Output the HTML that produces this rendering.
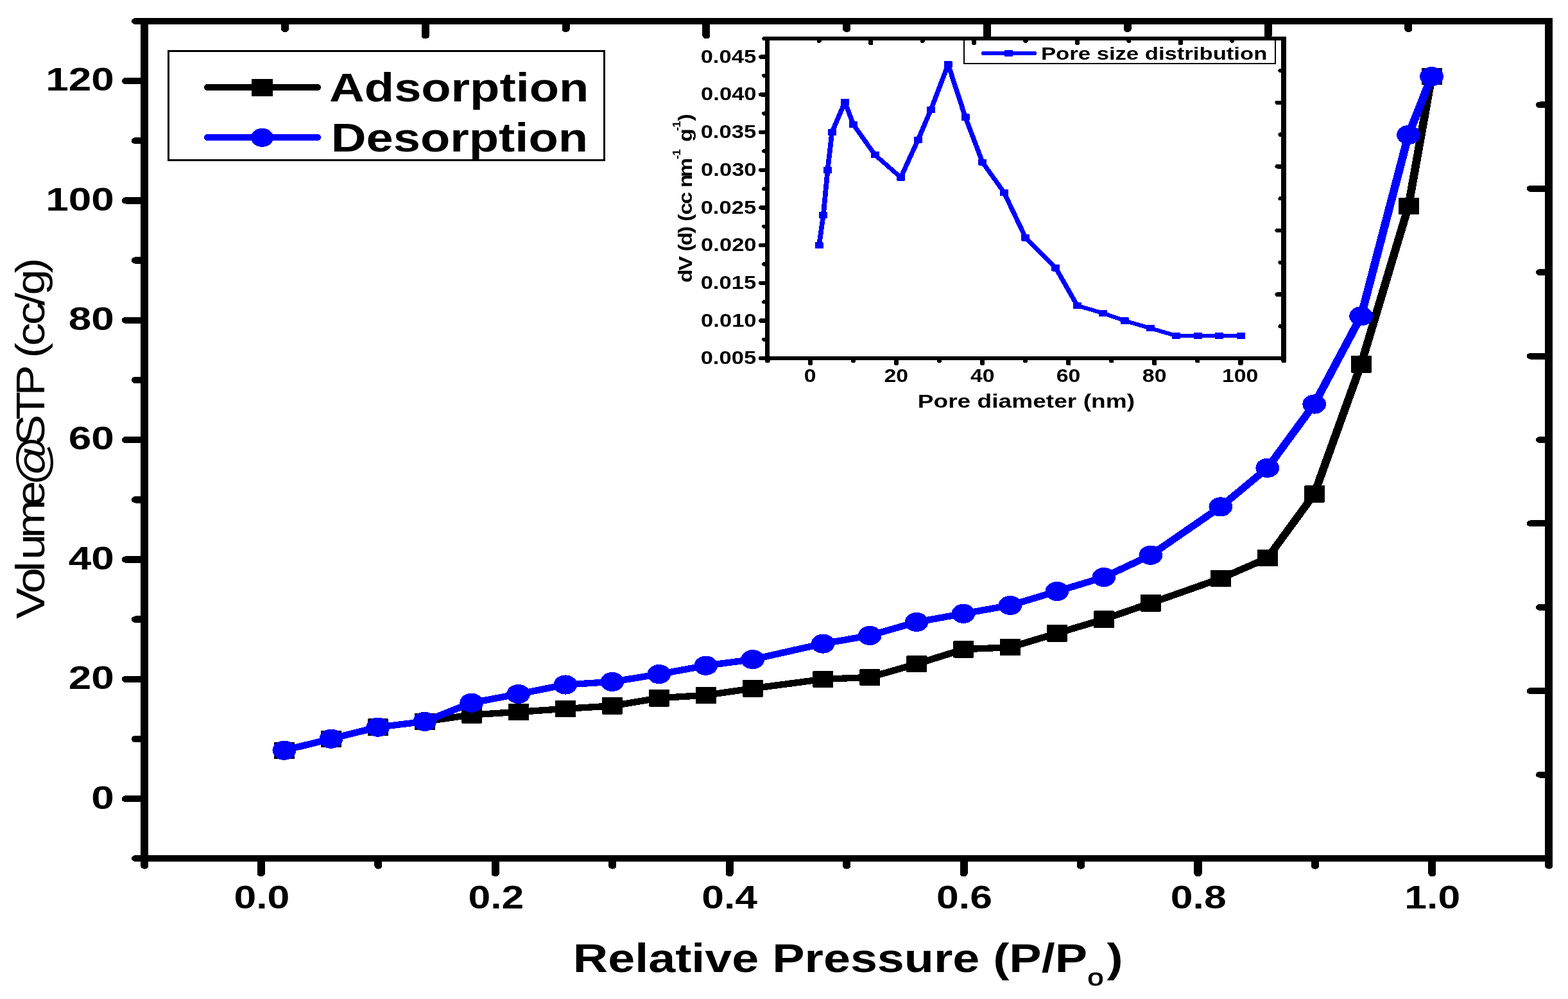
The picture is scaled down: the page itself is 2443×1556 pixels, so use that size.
<!DOCTYPE html>
<html lang="en">
<head>
<meta charset="utf-8">
<title>Adsorption / Desorption isotherm with pore size distribution</title>
<style>
html,body{margin:0;padding:0;background:#fff;}
body{width:2443px;height:1556px;overflow:hidden;}
svg{display:block;}
svg text{font-family:"Liberation Sans",Arial,Helvetica,sans-serif;font-kerning:none;white-space:pre;}
</style>
</head>
<body>
<svg width="2443" height="1556" viewBox="0 0 2443 1556">
<rect x="0" y="0" width="2443" height="1556" fill="#fff"/>
<g transform="scale(1.25 1)" shape-rendering="crispEdges">
<line x1="169" y1="1337" x2="178.56" y2="1337" stroke="#000" stroke-width="10" stroke-linecap="round"/>
<line x1="157" y1="1244.2" x2="178.56" y2="1244.2" stroke="#000" stroke-width="10.4" stroke-linecap="round"/>
<line x1="169" y1="1151.02" x2="178.56" y2="1151.02" stroke="#000" stroke-width="10.4" stroke-linecap="round"/>
<line x1="157" y1="1057.84" x2="178.56" y2="1057.84" stroke="#000" stroke-width="10.4" stroke-linecap="round"/>
<line x1="169" y1="964.66" x2="178.56" y2="964.66" stroke="#000" stroke-width="10.4" stroke-linecap="round"/>
<line x1="157" y1="871.48" x2="178.56" y2="871.48" stroke="#000" stroke-width="10.4" stroke-linecap="round"/>
<line x1="169" y1="778.3" x2="178.56" y2="778.3" stroke="#000" stroke-width="10.4" stroke-linecap="round"/>
<line x1="157" y1="685.12" x2="178.56" y2="685.12" stroke="#000" stroke-width="10.4" stroke-linecap="round"/>
<line x1="169" y1="591.94" x2="178.56" y2="591.94" stroke="#000" stroke-width="10.4" stroke-linecap="round"/>
<line x1="157" y1="498.76" x2="178.56" y2="498.76" stroke="#000" stroke-width="10.4" stroke-linecap="round"/>
<line x1="169" y1="405.58" x2="178.56" y2="405.58" stroke="#000" stroke-width="10.4" stroke-linecap="round"/>
<line x1="157" y1="312.4" x2="178.56" y2="312.4" stroke="#000" stroke-width="10.4" stroke-linecap="round"/>
<line x1="169" y1="219.22" x2="178.56" y2="219.22" stroke="#000" stroke-width="10.4" stroke-linecap="round"/>
<line x1="157" y1="126.04" x2="178.56" y2="126.04" stroke="#000" stroke-width="10.4" stroke-linecap="round"/>
<line x1="169" y1="33" x2="178.56" y2="33" stroke="#000" stroke-width="10" stroke-linecap="round"/>
<line x1="180.16" y1="1339" x2="180.16" y2="1348.8" stroke="#000" stroke-width="9.6" stroke-linecap="round"/>
<line x1="325.52" y1="1339" x2="325.52" y2="1360.5" stroke="#000" stroke-width="9.6" stroke-linecap="round"/>
<line x1="471.48" y1="1339" x2="471.48" y2="1348.8" stroke="#000" stroke-width="9.6" stroke-linecap="round"/>
<line x1="617.44" y1="1339" x2="617.44" y2="1360.5" stroke="#000" stroke-width="9.6" stroke-linecap="round"/>
<line x1="763.4" y1="1339" x2="763.4" y2="1348.8" stroke="#000" stroke-width="9.6" stroke-linecap="round"/>
<line x1="909.36" y1="1339" x2="909.36" y2="1360.5" stroke="#000" stroke-width="9.6" stroke-linecap="round"/>
<line x1="1055.32" y1="1339" x2="1055.32" y2="1348.8" stroke="#000" stroke-width="9.6" stroke-linecap="round"/>
<line x1="1201.28" y1="1339" x2="1201.28" y2="1360.5" stroke="#000" stroke-width="9.6" stroke-linecap="round"/>
<line x1="1347.24" y1="1339" x2="1347.24" y2="1348.8" stroke="#000" stroke-width="9.6" stroke-linecap="round"/>
<line x1="1493.2" y1="1339" x2="1493.2" y2="1360.5" stroke="#000" stroke-width="9.6" stroke-linecap="round"/>
<line x1="1639.16" y1="1339" x2="1639.16" y2="1348.8" stroke="#000" stroke-width="9.6" stroke-linecap="round"/>
<line x1="1785.12" y1="1339" x2="1785.12" y2="1360.5" stroke="#000" stroke-width="9.6" stroke-linecap="round"/>
<line x1="1930.56" y1="1339" x2="1930.56" y2="1348.8" stroke="#000" stroke-width="9.6" stroke-linecap="round"/>
<line x1="355.2" y1="35" x2="355.2" y2="45.2" stroke="#000" stroke-width="9.6" stroke-linecap="round"/>
<line x1="530.24" y1="35" x2="530.24" y2="55.7" stroke="#000" stroke-width="9.6" stroke-linecap="round"/>
<line x1="705.28" y1="35" x2="705.28" y2="45.2" stroke="#000" stroke-width="9.6" stroke-linecap="round"/>
<line x1="880.32" y1="35" x2="880.32" y2="55.7" stroke="#000" stroke-width="9.6" stroke-linecap="round"/>
<line x1="1055.36" y1="35" x2="1055.36" y2="45.2" stroke="#000" stroke-width="9.6" stroke-linecap="round"/>
<line x1="1230.4" y1="35" x2="1230.4" y2="55.7" stroke="#000" stroke-width="9.6" stroke-linecap="round"/>
<line x1="1405.44" y1="35" x2="1405.44" y2="45.2" stroke="#000" stroke-width="9.6" stroke-linecap="round"/>
<line x1="1580.48" y1="35" x2="1580.48" y2="55.7" stroke="#000" stroke-width="9.6" stroke-linecap="round"/>
<line x1="1755.52" y1="35" x2="1755.52" y2="45.2" stroke="#000" stroke-width="9.6" stroke-linecap="round"/>
<line x1="1919.4" y1="163.4" x2="1928.96" y2="163.4" stroke="#000" stroke-width="10" stroke-linecap="round"/>
<line x1="1907.96" y1="293.8" x2="1928.96" y2="293.8" stroke="#000" stroke-width="10" stroke-linecap="round"/>
<line x1="1919.4" y1="424.2" x2="1928.96" y2="424.2" stroke="#000" stroke-width="10" stroke-linecap="round"/>
<line x1="1907.96" y1="554.6" x2="1928.96" y2="554.6" stroke="#000" stroke-width="10" stroke-linecap="round"/>
<line x1="1919.4" y1="685" x2="1928.96" y2="685" stroke="#000" stroke-width="10" stroke-linecap="round"/>
<line x1="1907.96" y1="815.4" x2="1928.96" y2="815.4" stroke="#000" stroke-width="10" stroke-linecap="round"/>
<line x1="1919.4" y1="945.8" x2="1928.96" y2="945.8" stroke="#000" stroke-width="10" stroke-linecap="round"/>
<line x1="1907.96" y1="1076.2" x2="1928.96" y2="1076.2" stroke="#000" stroke-width="10" stroke-linecap="round"/>
<line x1="1919.4" y1="1206.6" x2="1928.96" y2="1206.6" stroke="#000" stroke-width="10" stroke-linecap="round"/>
<rect x="175.36" y="28" width="9.6" height="1309" fill="#000"/>
<rect x="1925.92" y="28" width="9.28" height="1309" fill="#000"/>
<rect x="180.16" y="28" width="1750.4" height="10" fill="#000"/>
<rect x="180.16" y="1332" width="1750.4" height="10" fill="#000"/>
</g>
<g transform="scale(1.25 1)" shape-rendering="crispEdges">
<polyline fill="none" stroke="#000" stroke-width="10.3" stroke-linejoin="round" stroke-linecap="round" points="354.3,1168.7 412.66,1150.7 471.02,1132.6 529.37,1123.8 587.73,1113.4 646.09,1108.9 704.77,1103.9 763.13,1099.4 821.49,1087.3 879.84,1082.8 938.2,1072.3 1025.74,1057.9 1084.1,1054.9 1142.46,1034.2 1200.82,1011.3 1259.17,1008.2 1317.53,986.3 1375.89,964.6 1434.25,939.4 1521.47,901 1579.83,869.2 1638.18,769.5 1696.54,567.4 1755.6,321 1784.4,119.1"/>
<rect x="341.74" y="1155.5" width="25.6" height="26.4" rx="1" fill="#000"/>
<rect x="400.1" y="1137.5" width="25.6" height="26.4" rx="1" fill="#000"/>
<rect x="458.46" y="1119.4" width="25.6" height="26.4" rx="1" fill="#000"/>
<rect x="516.81" y="1110.6" width="25.6" height="26.4" rx="1" fill="#000"/>
<rect x="575.17" y="1100.2" width="25.6" height="26.4" rx="1" fill="#000"/>
<rect x="633.53" y="1095.7" width="25.6" height="26.4" rx="1" fill="#000"/>
<rect x="692.21" y="1090.7" width="25.6" height="26.4" rx="1" fill="#000"/>
<rect x="750.57" y="1086.2" width="25.6" height="26.4" rx="1" fill="#000"/>
<rect x="808.93" y="1074.1" width="25.6" height="26.4" rx="1" fill="#000"/>
<rect x="867.28" y="1069.6" width="25.6" height="26.4" rx="1" fill="#000"/>
<rect x="925.64" y="1059.1" width="25.6" height="26.4" rx="1" fill="#000"/>
<rect x="1013.18" y="1044.7" width="25.6" height="26.4" rx="1" fill="#000"/>
<rect x="1071.54" y="1041.7" width="25.6" height="26.4" rx="1" fill="#000"/>
<rect x="1129.9" y="1021" width="25.6" height="26.4" rx="1" fill="#000"/>
<rect x="1188.26" y="998.1" width="25.6" height="26.4" rx="1" fill="#000"/>
<rect x="1246.61" y="995" width="25.6" height="26.4" rx="1" fill="#000"/>
<rect x="1304.97" y="973.1" width="25.6" height="26.4" rx="1" fill="#000"/>
<rect x="1363.33" y="951.4" width="25.6" height="26.4" rx="1" fill="#000"/>
<rect x="1421.69" y="926.2" width="25.6" height="26.4" rx="1" fill="#000"/>
<rect x="1508.91" y="887.8" width="25.6" height="26.4" rx="1" fill="#000"/>
<rect x="1567.27" y="856" width="25.6" height="26.4" rx="1" fill="#000"/>
<rect x="1625.62" y="756.3" width="25.6" height="26.4" rx="1" fill="#000"/>
<rect x="1683.98" y="554.2" width="25.6" height="26.4" rx="1" fill="#000"/>
<rect x="1743.04" y="307.8" width="25.6" height="26.4" rx="1" fill="#000"/>
<rect x="1771.84" y="105.9" width="25.6" height="26.4" rx="1" fill="#000"/>
<polyline fill="none" stroke="#0000ff" stroke-width="10.3" stroke-linejoin="round" stroke-linecap="round" points="354.3,1168.7 412.66,1150.7 471.02,1132.6 529.37,1123.8 587.73,1094.7 646.09,1081 704.77,1066.5 763.13,1061.9 821.49,1050.1 879.84,1036.7 938.2,1027.1 1025.74,1002.6 1084.1,989.9 1142.46,968.9 1200.82,955.8 1259.17,942.9 1317.53,921 1375.89,899.1 1434.25,864.7 1521.47,789.4 1579.83,728.9 1638.18,629.5 1696.54,492.4 1755.6,210 1784.4,119.1"/>
<ellipse cx="354.3" cy="1168.7" rx="14.72" ry="15.1" fill="#0000ff"/>
<ellipse cx="412.66" cy="1150.7" rx="14.72" ry="15.1" fill="#0000ff"/>
<ellipse cx="471.02" cy="1132.6" rx="14.72" ry="15.1" fill="#0000ff"/>
<ellipse cx="529.37" cy="1123.8" rx="14.72" ry="15.1" fill="#0000ff"/>
<ellipse cx="587.73" cy="1094.7" rx="14.72" ry="15.1" fill="#0000ff"/>
<ellipse cx="646.09" cy="1081" rx="14.72" ry="15.1" fill="#0000ff"/>
<ellipse cx="704.77" cy="1066.5" rx="14.72" ry="15.1" fill="#0000ff"/>
<ellipse cx="763.13" cy="1061.9" rx="14.72" ry="15.1" fill="#0000ff"/>
<ellipse cx="821.49" cy="1050.1" rx="14.72" ry="15.1" fill="#0000ff"/>
<ellipse cx="879.84" cy="1036.7" rx="14.72" ry="15.1" fill="#0000ff"/>
<ellipse cx="938.2" cy="1027.1" rx="14.72" ry="15.1" fill="#0000ff"/>
<ellipse cx="1025.74" cy="1002.6" rx="14.72" ry="15.1" fill="#0000ff"/>
<ellipse cx="1084.1" cy="989.9" rx="14.72" ry="15.1" fill="#0000ff"/>
<ellipse cx="1142.46" cy="968.9" rx="14.72" ry="15.1" fill="#0000ff"/>
<ellipse cx="1200.82" cy="955.8" rx="14.72" ry="15.1" fill="#0000ff"/>
<ellipse cx="1259.17" cy="942.9" rx="14.72" ry="15.1" fill="#0000ff"/>
<ellipse cx="1317.53" cy="921" rx="14.72" ry="15.1" fill="#0000ff"/>
<ellipse cx="1375.89" cy="899.1" rx="14.72" ry="15.1" fill="#0000ff"/>
<ellipse cx="1434.25" cy="864.7" rx="14.72" ry="15.1" fill="#0000ff"/>
<ellipse cx="1521.47" cy="789.4" rx="14.72" ry="15.1" fill="#0000ff"/>
<ellipse cx="1579.83" cy="728.9" rx="14.72" ry="15.1" fill="#0000ff"/>
<ellipse cx="1638.18" cy="629.5" rx="14.72" ry="15.1" fill="#0000ff"/>
<ellipse cx="1696.54" cy="492.4" rx="14.72" ry="15.1" fill="#0000ff"/>
<ellipse cx="1755.6" cy="210" rx="14.72" ry="15.1" fill="#0000ff"/>
<ellipse cx="1784.4" cy="119.1" rx="14.72" ry="15.1" fill="#0000ff"/>
</g>
<path d="M261 78H943V251H261ZM264 81V248H940V81Z" fill="#000" fill-rule="evenodd" shape-rendering="crispEdges"/>
<g transform="scale(1.25 1)" shape-rendering="crispEdges">
<line x1="259.36" y1="136" x2="395.04" y2="136" stroke="#000" stroke-width="10.4" stroke-linecap="round"/>
<rect x="313.6" y="122.8" width="26.4" height="27.2" rx="1" fill="#000"/>
<line x1="259.36" y1="214" x2="395.04" y2="214" stroke="#0000ff" stroke-width="10.4" stroke-linecap="round"/>
<ellipse cx="326.8" cy="214.3" rx="14.08" ry="14.6" fill="#0000ff"/>
</g>
<text transform="translate(513.11 157.7) scale(1.2169 1)" font-size="62.3" font-weight="bold" fill="#000">Adsorption</text>
<text transform="translate(515.72 236.2) scale(1.2180 1)" font-size="62.3" font-weight="bold" fill="#000">Desorption</text>
<text transform="translate(142.29 1259.5) scale(1.2550 1)" font-size="50.9" font-weight="bold" fill="#000">0</text>
<text transform="translate(106.77 1073.14) scale(1.2550 1)" font-size="50.9" font-weight="bold" fill="#000">20</text>
<text transform="translate(106.77 886.78) scale(1.2550 1)" font-size="50.9" font-weight="bold" fill="#000">40</text>
<text transform="translate(106.77 700.42) scale(1.2550 1)" font-size="50.9" font-weight="bold" fill="#000">60</text>
<text transform="translate(106.77 514.06) scale(1.2550 1)" font-size="50.9" font-weight="bold" fill="#000">80</text>
<text transform="translate(71.24 327.7) scale(1.2550 1)" font-size="50.9" font-weight="bold" fill="#000">100</text>
<text transform="translate(71.24 141.34) scale(1.2550 1)" font-size="50.9" font-weight="bold" fill="#000">120</text>
<text transform="translate(364.51 1415) scale(1.2350 1)" font-size="50.6" font-weight="bold" fill="#000">0.0</text>
<text transform="translate(729.38 1415) scale(1.2350 1)" font-size="50.6" font-weight="bold" fill="#000">0.2</text>
<text transform="translate(1093.2 1415) scale(1.2350 1)" font-size="50.6" font-weight="bold" fill="#000">0.4</text>
<text transform="translate(1459.06 1415) scale(1.2350 1)" font-size="50.6" font-weight="bold" fill="#000">0.6</text>
<text transform="translate(1823.79 1415) scale(1.2350 1)" font-size="50.6" font-weight="bold" fill="#000">0.8</text>
<text transform="translate(2188.28 1415) scale(1.2350 1)" font-size="50.6" font-weight="bold" fill="#000">1.0</text>
<text transform="translate(892.85 1513.8) scale(1.2114 1)" font-size="62.3" font-weight="bold" fill="#000">Relative Pressure (P/P<tspan x="661.7" y="21.5" font-size="37" font-weight="normal" stroke="#000" stroke-width="1">o</tspan><tspan x="686.47" y="0">)</tspan></text>
<text transform="translate(68.8 963.5) rotate(-90) scale(1 0.8650)" font-size="72" font-weight="normal"><tspan x="-0.32 39.38 72.95 91.82 125.22 174.84" y="0">Volume</tspan><tspan x="206.95" y="4.86" font-size="77">@</tspan><tspan x="269.73 309.78 347.09 395 405.84 424.84 457.44 487.5 503.98 538.08" y="0">STP (cc/g)</tspan></text>
<g transform="scale(1.25 1)" shape-rendering="crispEdges">
<line x1="948.72" y1="558.2" x2="955.52" y2="558.2" stroke="#000" stroke-width="6.4" stroke-linecap="round"/>
<line x1="952.96" y1="528.85" x2="955.52" y2="528.85" stroke="#000" stroke-width="6.4" stroke-linecap="round"/>
<line x1="948.72" y1="499.5" x2="955.52" y2="499.5" stroke="#000" stroke-width="6.4" stroke-linecap="round"/>
<line x1="952.96" y1="470.15" x2="955.52" y2="470.15" stroke="#000" stroke-width="6.4" stroke-linecap="round"/>
<line x1="948.72" y1="440.8" x2="955.52" y2="440.8" stroke="#000" stroke-width="6.4" stroke-linecap="round"/>
<line x1="952.96" y1="411.45" x2="955.52" y2="411.45" stroke="#000" stroke-width="6.4" stroke-linecap="round"/>
<line x1="948.72" y1="382.1" x2="955.52" y2="382.1" stroke="#000" stroke-width="6.4" stroke-linecap="round"/>
<line x1="952.96" y1="352.75" x2="955.52" y2="352.75" stroke="#000" stroke-width="6.4" stroke-linecap="round"/>
<line x1="948.72" y1="323.4" x2="955.52" y2="323.4" stroke="#000" stroke-width="6.4" stroke-linecap="round"/>
<line x1="952.96" y1="294.05" x2="955.52" y2="294.05" stroke="#000" stroke-width="6.4" stroke-linecap="round"/>
<line x1="948.72" y1="264.7" x2="955.52" y2="264.7" stroke="#000" stroke-width="6.4" stroke-linecap="round"/>
<line x1="952.96" y1="235.35" x2="955.52" y2="235.35" stroke="#000" stroke-width="6.4" stroke-linecap="round"/>
<line x1="948.72" y1="206" x2="955.52" y2="206" stroke="#000" stroke-width="6.4" stroke-linecap="round"/>
<line x1="952.96" y1="176.65" x2="955.52" y2="176.65" stroke="#000" stroke-width="6.4" stroke-linecap="round"/>
<line x1="948.72" y1="147.3" x2="955.52" y2="147.3" stroke="#000" stroke-width="6.4" stroke-linecap="round"/>
<line x1="952.96" y1="117.95" x2="955.52" y2="117.95" stroke="#000" stroke-width="6.4" stroke-linecap="round"/>
<line x1="948.72" y1="88.6" x2="955.52" y2="88.6" stroke="#000" stroke-width="6.4" stroke-linecap="round"/>
<line x1="952.88" y1="60.2" x2="955.52" y2="60.2" stroke="#000" stroke-width="6" stroke-linecap="round"/>
<line x1="956.72" y1="559.2" x2="956.72" y2="562.5" stroke="#000" stroke-width="5.8" stroke-linecap="round"/>
<line x1="1009.92" y1="559.2" x2="1009.92" y2="566.5" stroke="#000" stroke-width="5.8" stroke-linecap="round"/>
<line x1="1063.56" y1="559.2" x2="1063.56" y2="562.5" stroke="#000" stroke-width="5.8" stroke-linecap="round"/>
<line x1="1117.2" y1="559.2" x2="1117.2" y2="566.5" stroke="#000" stroke-width="5.8" stroke-linecap="round"/>
<line x1="1170.84" y1="559.2" x2="1170.84" y2="562.5" stroke="#000" stroke-width="5.8" stroke-linecap="round"/>
<line x1="1224.48" y1="559.2" x2="1224.48" y2="566.5" stroke="#000" stroke-width="5.8" stroke-linecap="round"/>
<line x1="1278.12" y1="559.2" x2="1278.12" y2="562.5" stroke="#000" stroke-width="5.8" stroke-linecap="round"/>
<line x1="1331.76" y1="559.2" x2="1331.76" y2="566.5" stroke="#000" stroke-width="5.8" stroke-linecap="round"/>
<line x1="1385.4" y1="559.2" x2="1385.4" y2="562.5" stroke="#000" stroke-width="5.8" stroke-linecap="round"/>
<line x1="1439.04" y1="559.2" x2="1439.04" y2="566.5" stroke="#000" stroke-width="5.8" stroke-linecap="round"/>
<line x1="1492.68" y1="559.2" x2="1492.68" y2="562.5" stroke="#000" stroke-width="5.8" stroke-linecap="round"/>
<line x1="1546.32" y1="559.2" x2="1546.32" y2="566.5" stroke="#000" stroke-width="5.8" stroke-linecap="round"/>
<line x1="1600.08" y1="559.2" x2="1600.08" y2="562.5" stroke="#000" stroke-width="5.8" stroke-linecap="round"/>
<line x1="1021.06" y1="61.2" x2="1021.06" y2="63.9" stroke="#000" stroke-width="5.8" stroke-linecap="round"/>
<line x1="1085.39" y1="61.2" x2="1085.39" y2="67.6" stroke="#000" stroke-width="5.8" stroke-linecap="round"/>
<line x1="1149.73" y1="61.2" x2="1149.73" y2="63.9" stroke="#000" stroke-width="5.8" stroke-linecap="round"/>
<line x1="1214.06" y1="61.2" x2="1214.06" y2="67.6" stroke="#000" stroke-width="5.8" stroke-linecap="round"/>
<line x1="1278.4" y1="61.2" x2="1278.4" y2="63.9" stroke="#000" stroke-width="5.8" stroke-linecap="round"/>
<line x1="1342.74" y1="61.2" x2="1342.74" y2="67.6" stroke="#000" stroke-width="5.8" stroke-linecap="round"/>
<line x1="1407.07" y1="61.2" x2="1407.07" y2="63.9" stroke="#000" stroke-width="5.8" stroke-linecap="round"/>
<line x1="1471.41" y1="61.2" x2="1471.41" y2="67.6" stroke="#000" stroke-width="5.8" stroke-linecap="round"/>
<line x1="1535.74" y1="61.2" x2="1535.74" y2="63.9" stroke="#000" stroke-width="5.8" stroke-linecap="round"/>
<line x1="1596.32" y1="110" x2="1598.88" y2="110" stroke="#000" stroke-width="6.4" stroke-linecap="round"/>
<line x1="1592.32" y1="159.8" x2="1598.88" y2="159.8" stroke="#000" stroke-width="6.4" stroke-linecap="round"/>
<line x1="1596.32" y1="209.6" x2="1598.88" y2="209.6" stroke="#000" stroke-width="6.4" stroke-linecap="round"/>
<line x1="1592.32" y1="259.4" x2="1598.88" y2="259.4" stroke="#000" stroke-width="6.4" stroke-linecap="round"/>
<line x1="1596.32" y1="309.2" x2="1598.88" y2="309.2" stroke="#000" stroke-width="6.4" stroke-linecap="round"/>
<line x1="1592.32" y1="359" x2="1598.88" y2="359" stroke="#000" stroke-width="6.4" stroke-linecap="round"/>
<line x1="1596.32" y1="408.8" x2="1598.88" y2="408.8" stroke="#000" stroke-width="6.4" stroke-linecap="round"/>
<line x1="1592.32" y1="458.6" x2="1598.88" y2="458.6" stroke="#000" stroke-width="6.4" stroke-linecap="round"/>
<line x1="1596.32" y1="508.4" x2="1598.88" y2="508.4" stroke="#000" stroke-width="6.4" stroke-linecap="round"/>
<rect x="953.92" y="57.2" width="5.6" height="501" fill="#000"/>
<rect x="1596.96" y="57.2" width="6.24" height="501" fill="#000"/>
<rect x="956.72" y="57.2" width="643.36" height="6" fill="#000"/>
<rect x="956.72" y="555.2" width="643.36" height="6" fill="#000"/>
</g>
<g transform="scale(1.25 1)" shape-rendering="crispEdges">
<polyline fill="none" stroke="#0000ff" stroke-width="6.2" stroke-linejoin="round" stroke-linecap="round" points="1020.89,382.1 1026.25,335.14 1031.62,264.7 1036.98,206 1053.07,159.04 1063.8,194.26 1090.62,241.22 1122.8,276.44 1144.26,217.74 1160.35,170.78 1181.81,100.34 1203.26,182.52 1224.72,252.96 1251.54,299.92 1278.36,370.36 1315.91,417.32 1342.73,476.02 1374.91,487.76 1401.73,499.5 1433.92,511.24 1466.1,522.98 1492.92,522.98 1519.74,522.98 1546.56,522.98"/>
<rect x="1015.69" y="376.9" width="10.4" height="10.4" rx="1" fill="#0000ff"/>
<rect x="1021.05" y="329.94" width="10.4" height="10.4" rx="1" fill="#0000ff"/>
<rect x="1026.42" y="259.5" width="10.4" height="10.4" rx="1" fill="#0000ff"/>
<rect x="1031.78" y="200.8" width="10.4" height="10.4" rx="1" fill="#0000ff"/>
<rect x="1047.87" y="153.84" width="10.4" height="10.4" rx="1" fill="#0000ff"/>
<rect x="1058.6" y="189.06" width="10.4" height="10.4" rx="1" fill="#0000ff"/>
<rect x="1085.42" y="236.02" width="10.4" height="10.4" rx="1" fill="#0000ff"/>
<rect x="1117.6" y="271.24" width="10.4" height="10.4" rx="1" fill="#0000ff"/>
<rect x="1139.06" y="212.54" width="10.4" height="10.4" rx="1" fill="#0000ff"/>
<rect x="1155.15" y="165.58" width="10.4" height="10.4" rx="1" fill="#0000ff"/>
<rect x="1176.61" y="95.14" width="10.4" height="10.4" rx="1" fill="#0000ff"/>
<rect x="1198.06" y="177.32" width="10.4" height="10.4" rx="1" fill="#0000ff"/>
<rect x="1219.52" y="247.76" width="10.4" height="10.4" rx="1" fill="#0000ff"/>
<rect x="1246.34" y="294.72" width="10.4" height="10.4" rx="1" fill="#0000ff"/>
<rect x="1273.16" y="365.16" width="10.4" height="10.4" rx="1" fill="#0000ff"/>
<rect x="1310.71" y="412.12" width="10.4" height="10.4" rx="1" fill="#0000ff"/>
<rect x="1337.53" y="470.82" width="10.4" height="10.4" rx="1" fill="#0000ff"/>
<rect x="1369.71" y="482.56" width="10.4" height="10.4" rx="1" fill="#0000ff"/>
<rect x="1396.53" y="494.3" width="10.4" height="10.4" rx="1" fill="#0000ff"/>
<rect x="1428.72" y="506.04" width="10.4" height="10.4" rx="1" fill="#0000ff"/>
<rect x="1460.9" y="517.78" width="10.4" height="10.4" rx="1" fill="#0000ff"/>
<rect x="1487.72" y="517.78" width="10.4" height="10.4" rx="1" fill="#0000ff"/>
<rect x="1514.54" y="517.78" width="10.4" height="10.4" rx="1" fill="#0000ff"/>
<rect x="1541.36" y="517.78" width="10.4" height="10.4" rx="1" fill="#0000ff"/>
</g>
<path d="M1501 61H1988V100H1501ZM1503 63V98H1986V63Z" fill="#000" fill-rule="evenodd" shape-rendering="crispEdges"/>
<g transform="scale(1.25 1)" shape-rendering="crispEdges">
<line x1="1226.4" y1="83" x2="1288.8" y2="83" stroke="#0000ff" stroke-width="6.8" stroke-linecap="round"/>
<rect x="1252" y="78" width="10.4" height="9.8" rx="1" fill="#0000ff"/>
</g>
<text transform="translate(1621.98 93.1) scale(1.2163 1)" font-size="28.5" font-weight="bold" fill="#000">Pore size distribution</text>
<text transform="translate(1091.64 567.3) scale(1.1760 1)" font-size="29.4" font-weight="bold" fill="#000">0.005</text>
<text transform="translate(1092.1 508.6) scale(1.1760 1)" font-size="29.4" font-weight="bold" fill="#000">0.010</text>
<text transform="translate(1091.64 449.9) scale(1.1760 1)" font-size="29.4" font-weight="bold" fill="#000">0.015</text>
<text transform="translate(1092.1 391.2) scale(1.1760 1)" font-size="29.4" font-weight="bold" fill="#000">0.020</text>
<text transform="translate(1091.64 332.5) scale(1.1760 1)" font-size="29.4" font-weight="bold" fill="#000">0.025</text>
<text transform="translate(1092.1 273.8) scale(1.1760 1)" font-size="29.4" font-weight="bold" fill="#000">0.030</text>
<text transform="translate(1091.64 215.1) scale(1.1760 1)" font-size="29.4" font-weight="bold" fill="#000">0.035</text>
<text transform="translate(1092.1 156.4) scale(1.1760 1)" font-size="29.4" font-weight="bold" fill="#000">0.040</text>
<text transform="translate(1091.64 97.7) scale(1.1760 1)" font-size="29.4" font-weight="bold" fill="#000">0.045</text>
<text transform="translate(1252.72 595.1) scale(1.1500 1)" font-size="29.4" font-weight="bold" fill="#000">0</text>
<text transform="translate(1377.5 595.1) scale(1.1500 1)" font-size="29.4" font-weight="bold" fill="#000">20</text>
<text transform="translate(1511.93 595.1) scale(1.1500 1)" font-size="29.4" font-weight="bold" fill="#000">40</text>
<text transform="translate(1645.67 595.1) scale(1.1500 1)" font-size="29.4" font-weight="bold" fill="#000">60</text>
<text transform="translate(1779.85 595.1) scale(1.1500 1)" font-size="29.4" font-weight="bold" fill="#000">80</text>
<text transform="translate(1904.02 595.1) scale(1.1500 1)" font-size="29.4" font-weight="bold" fill="#000">100</text>
<text transform="translate(1429.72 634.8) scale(1.2375 1)" font-size="30" font-weight="bold" fill="#000">Pore diameter (nm)</text>
<text transform="translate(1077.9 438.8) rotate(-90) scale(1 0.8800)" font-size="34" font-weight="bold"><tspan x="-1.39 17.38 47.22 56.32 75.29 86.09 94.18 104.33 120.96 141.85 146.46 162.7" y="0">dV(d) (cc nm</tspan><tspan x="190.78 196.12" y="-20" font-size="19">-1</tspan><tspan x="212.29 217.74" y="0"> g</tspan><tspan x="234.8 240.15" y="-20" font-size="19">-1</tspan><tspan x="250.41" y="0">)</tspan></text>
</svg>
</body>
</html>
